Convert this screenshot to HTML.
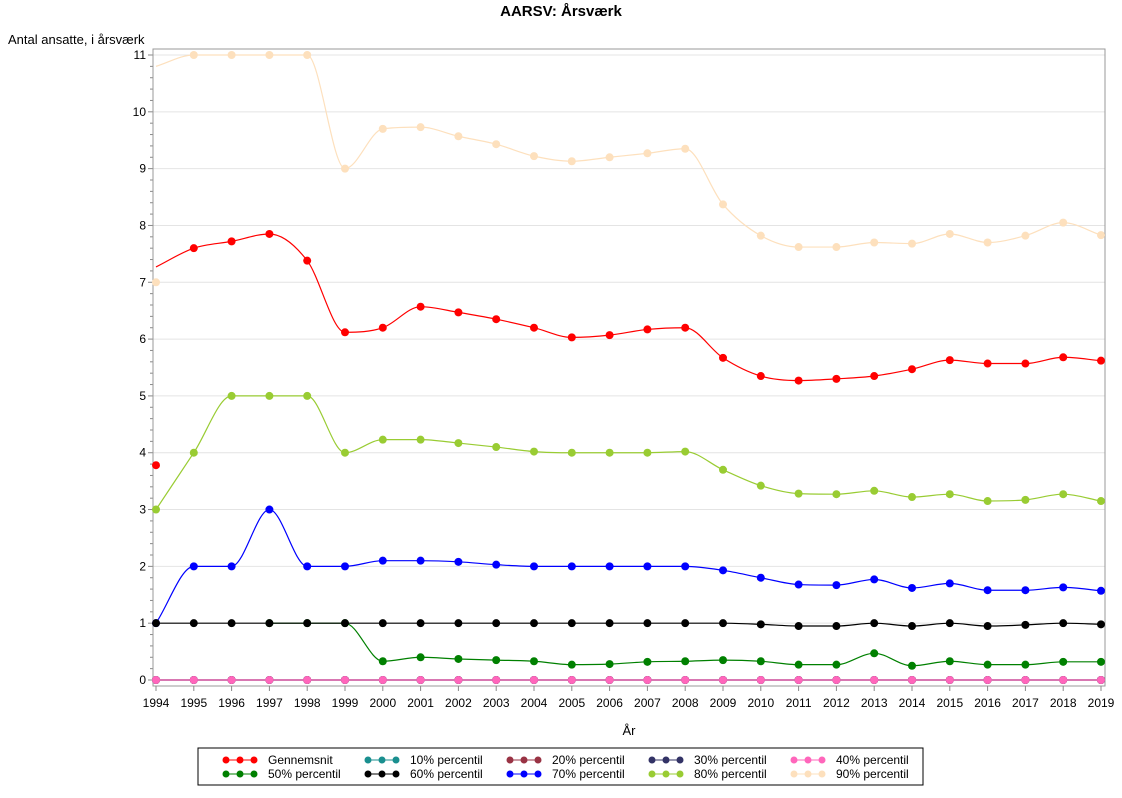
<!DOCTYPE html>
<html><head><meta charset="utf-8"><style>
body{margin:0;background:#fff;font-family:"Liberation Sans",sans-serif}
</style></head><body>
<svg id="c" width="1122" height="793" font-family="Liberation Sans, sans-serif"></svg>
<script>
const years=[1994,1995,1996,1997,1998,1999,2000,2001,2002,2003,2004,2005,2006,2007,2008,2009,2010,2011,2012,2013,2014,2015,2016,2017,2018,2019];
const yTicks=[0,1,2,3,4,5,6,7,8,9,10,11];
const gennemsnit=[3.78,7.6,7.72,7.85,7.38,6.12,6.2,6.57,6.47,6.35,6.2,6.03,6.07,6.17,6.2,5.67,5.35,5.27,5.3,5.35,5.47,5.63,5.57,5.57,5.68,5.62];
const p90=[7.0,11,11,11,11,9.0,9.7,9.73,9.57,9.43,9.22,9.13,9.2,9.27,9.35,8.37,7.82,7.62,7.62,7.7,7.68,7.85,7.7,7.82,8.05,7.83];
const p80=[3.0,4.0,5.0,5.0,5.0,4.0,4.23,4.23,4.17,4.1,4.02,4.0,4.0,4.0,4.02,3.7,3.42,3.28,3.27,3.33,3.22,3.27,3.15,3.17,3.27,3.15];
const p70=[1.0,2.0,2.0,3.0,2.0,2.0,2.1,2.1,2.08,2.03,2.0,2.0,2.0,2.0,2.0,1.93,1.8,1.68,1.67,1.77,1.62,1.7,1.58,1.58,1.63,1.57];
const p60=[1,1,1,1,1,1,1,1,1,1,1,1,1,1,1,1,0.98,0.95,0.95,1.0,0.95,1.0,0.95,0.97,1.0,0.98];
const p50=[null,null,null,1,1,1,0.33,0.4,0.37,0.35,0.33,0.27,0.28,0.32,0.33,0.35,0.33,0.27,0.27,0.47,0.25,0.33,0.27,0.27,0.32,0.32];
const p40=years.map(()=>0), p30=years.map(()=>0), p20=years.map(()=>0), p10=years.map(()=>0);
const curveStartGennemsnit=7.27, curveStartP90=10.8;

const svg=document.getElementById('c');const NS='http://www.w3.org/2000/svg';
function mk(t,a,p){const e=document.createElementNS(NS,t);for(const k in a)e.setAttribute(k,a[k]);(p||svg).appendChild(e);return e;}
const X0=156,X1=1101,Y0=680,Y1=55;
const x=i=>X0+(years[i]-years[0])/(years[years.length-1]-years[0])*(X1-X0);
const y=v=>Y0-v/11*(Y0-Y1);
let t=mk('text',{x:561,y:16,'text-anchor':'middle','font-size':15,'font-weight':'bold'});t.textContent='AARSV: Årsværk';

t=mk('text',{x:8,y:44,'font-size':13});t.textContent='Antal ansatte, i årsværk';

yTicks.forEach(v=>{mk('line',{x1:153,x2:1105,y1:y(v),y2:y(v),stroke:'#e4e4e4'});
 mk('line',{x1:148,x2:153,y1:y(v),y2:y(v),stroke:'#888'});
 const l=mk('text',{x:146,y:y(v)+4,'text-anchor':'end','font-size':12});l.textContent=v;
 
 if(v<11)for(let k=1;k<5;k++)mk('line',{x1:150,x2:153,y1:y(v+k*0.2),y2:y(v+k*0.2),stroke:'#888'});});
mk('rect',{x:153,y:49,width:952,height:637,fill:'none',stroke:'#999'});
years.forEach((yr,i)=>{mk('line',{x1:x(i),x2:x(i),y1:686,y2:691,stroke:'#888'});
 const l=mk('text',{x:x(i),y:707,'text-anchor':'middle','font-size':12});l.textContent=yr;
 });
t=mk('text',{x:629,y:735,'text-anchor':'middle','font-size':13});t.textContent='År';

function curve(pts){const n=pts.length;if(n<2)return '';
 const d=[],m=[];for(let i=0;i<n-1;i++)d.push((pts[i+1][1]-pts[i][1])/(pts[i+1][0]-pts[i][0]));
 m[0]=d[0];m[n-1]=d[n-2];
 for(let i=1;i<n-1;i++){m[i]=(d[i-1]*d[i]<=0)?0:(d[i-1]+d[i])/2;}
 for(let i=0;i<n-1;i++){if(d[i]===0){m[i]=0;m[i+1]=0;continue;}
  const a=m[i]/d[i],b=m[i+1]/d[i],s=a*a+b*b;if(s>9){const tt=3/Math.sqrt(s);m[i]=tt*a*d[i];m[i+1]=tt*b*d[i];}}
 let p='M'+pts[0][0]+','+pts[0][1];
 for(let i=0;i<n-1;i++){const h=(pts[i+1][0]-pts[i][0])/3;
  p+=`C${pts[i][0]+h},${pts[i][1]+m[i]*h} ${pts[i+1][0]-h},${pts[i+1][1]-m[i+1]*h} ${pts[i+1][0]},${pts[i+1][1]}`;}
 return p;}
function series(name,vals,col,start){const g=mk('g',{});
 const pts=[];vals.forEach((v,i)=>{if(v!==null)pts.push([x(i),y(i===0&&start!==undefined?start:v)]);});
 mk('path',{d:curve(pts),fill:'none',stroke:col,'stroke-width':1.2},g);
 vals.forEach((v,i)=>{if(v===null)return;const c=mk('circle',{cx:x(i),cy:y(v),r:4,fill:col},g);
  });}
series('p90',p90,'#fde0bd',curveStartP90);
series('gennemsnit',gennemsnit,'#ff0000',curveStartGennemsnit);
series('p80',p80,'#99cc33');
series('p70',p70,'#0000ff');
series('p50',p50,'#008000');
series('p60',p60,'#000000');
series('p10',p10,'#1a8f8f');series('p20',p20,'#993344');series('p30',p30,'#333366');series('p40',p40,'#ff66bb');
const lg=mk('g',{});
mk('rect',{x:198,y:748,width:725,height:37,fill:'#fff',stroke:'#000'},lg);
const legNames=['Gennemsnit','10% percentil','20% percentil','30% percentil','40% percentil','50% percentil','60% percentil','70% percentil','80% percentil','90% percentil'];
const legCols=['#ff0000','#1a8f8f','#993344','#333366','#ff66bb','#008000','#000000','#0000ff','#99cc33','#fde0bd'];
legNames.forEach((n,i)=>{const cx=226+(i%5)*142,cy=760+Math.floor(i/5)*14;
 const g=mk('g',{},lg);
 mk('line',{x1:cx,x2:cx+28,y1:cy,y2:cy,stroke:legCols[i]},g);
 [0,14,28].forEach(o=>mk('circle',{cx:cx+o,cy:cy,r:3.5,fill:legCols[i]},g));
 const tt=mk('text',{x:cx+42,y:cy+4,'font-size':12},g);tt.textContent=n;});
</script>
</body></html>
